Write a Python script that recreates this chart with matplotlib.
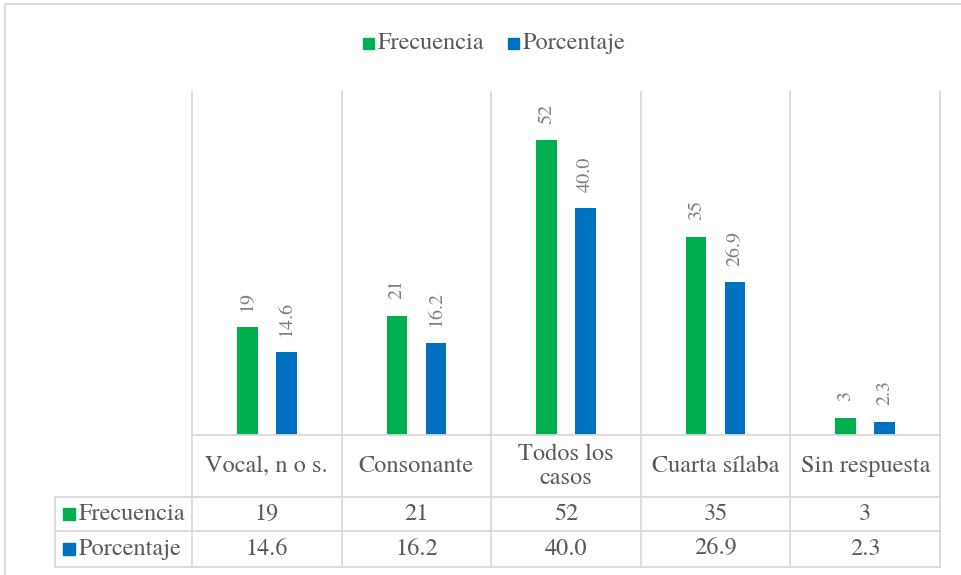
import matplotlib
matplotlib.use("Agg")
import matplotlib.pyplot as plt
from matplotlib.patches import Rectangle
from matplotlib import font_manager
from matplotlib.font_manager import FontProperties
import numpy as np

categories = ["Vocal, n o s.", "Consonante", "Todos los\ncasos", "Cuarta sílaba", "Sin respuesta"]
frecuencia = [19, 21, 52, 35, 3]
porcentaje = [14.6, 16.2, 40.0, 26.9, 2.3]
series_names = ["Frecuencia", "Porcentaje"]
frec_labels = ["19", "21", "52", "35", "3"]
porc_labels = ["14.6", "16.2", "40.0", "26.9", "2.3"]

GREEN = "#00B050"
BLUE = "#0070C0"
GRID = "#d9d9d9"
TXT = "#595959"
LBL = "#7f7f7f"

# locate a regular Times-like serif font file
path = None
for pref in ("TeX Gyre Termes", "Liberation Serif", "STIX Two Text", "DejaVu Serif"):
    cands = [f for f in font_manager.fontManager.ttflist
             if f.name == pref and f.style == "normal" and f.weight in (400, "normal", "regular")]
    if cands:
        path = cands[0].fname
        break

def fp(size):
    if path:
        return FontProperties(fname=path, size=size)
    return FontProperties(family="serif", size=size)

W, H = 961, 575
fig = plt.figure(figsize=(W / 100, H / 100), dpi=100)

L, R, T, B = 192, 940, 92, 435
ax = fig.add_axes([L / W, 1 - B / H, (R - L) / W, (B - T) / H])
ax.set_xlim(0, 5)
ax.set_ylim(0, 60.5)
ax.axis("off")

def fy(ypix):
    return (B - ypix) / (B - T)

def fx(xpix):
    return (xpix - L) / (R - L)

x = np.arange(5) + 0.5
bw = 0.138
off = 0.13
ax.bar(x - off, frecuencia, bw, color=GREEN, zorder=3)
ax.bar(x + off, porcentaje, bw, color=BLUE, zorder=3)

for xi, v, s in zip(x - off, frecuencia, frec_labels):
    ax.annotate(s, (xi, v), xytext=(0, 12), textcoords="offset points", rotation=90,
                ha="center", va="bottom", color=LBL, fontproperties=fp(14.5))
for xi, v, s in zip(x + off, porcentaje, porc_labels):
    ax.annotate(s, (xi, v), xytext=(0, 12), textcoords="offset points", rotation=90,
                ha="center", va="bottom", color=LBL, fontproperties=fp(14.5))

lw = 1.3
for i in range(6):
    ax.plot([i, i], [1.0, fy(567)], transform=ax.get_xaxis_transform(), color=GRID,
            lw=lw, clip_on=False, zorder=1)
ax.plot([0, 1], [0, 0], transform=ax.transAxes, color=GRID, lw=lw, clip_on=False, zorder=4)
for yp in (497, 531, 567):
    ax.plot([fx(55), 1], [fy(yp), fy(yp)], transform=ax.transAxes, color=GRID, lw=lw, clip_on=False)
ax.plot([fx(55), fx(55)], [fy(497), fy(567)], transform=ax.transAxes, color=GRID, lw=lw, clip_on=False)

fs = 17.5
for xi, c in zip(x, categories):
    ax.text(xi, fy(466), c, transform=ax.get_xaxis_transform(), ha="center", va="center",
            color=TXT, fontproperties=fp(fs), linespacing=1.15)
for xi, s in zip(x, frec_labels):
    ax.text(xi, fy(514), s, transform=ax.get_xaxis_transform(), ha="center", va="center",
            color=TXT, fontproperties=fp(fs))
for xi, s in zip(x, porc_labels):
    ax.text(xi, fy(549), s, transform=ax.get_xaxis_transform(), ha="center", va="center",
            color=TXT, fontproperties=fp(fs))
for yp, name, col in ((514, series_names[0], GREEN), (549, series_names[1], BLUE)):
    fig.patches.append(Rectangle((63 / W, 1 - (yp + 6) / H), 12 / W, 12 / H,
                                 transform=fig.transFigure, color=col))
    fig.text(79 / W, 1 - yp / H, name, ha="left", va="center", color=TXT, fontproperties=fp(fs))

for xk, name, col in ((363, series_names[0], GREEN), (508, series_names[1], BLUE)):
    fig.patches.append(Rectangle((xk / W, 1 - (43 + 5.5) / H), 11 / W, 11 / H,
                                 transform=fig.transFigure, color=col))
    fig.text((xk + 15) / W, 1 - 43 / H, name, ha="left", va="center", color=TXT, fontproperties=fp(fs))

fig.patches.append(Rectangle((5 / W, -0.1), 2.0, 1 - 4 / H + 0.1, transform=fig.transFigure,
                             fill=False, edgecolor=GRID, lw=1.3))

fig.savefig("out.png", dpi=100)
